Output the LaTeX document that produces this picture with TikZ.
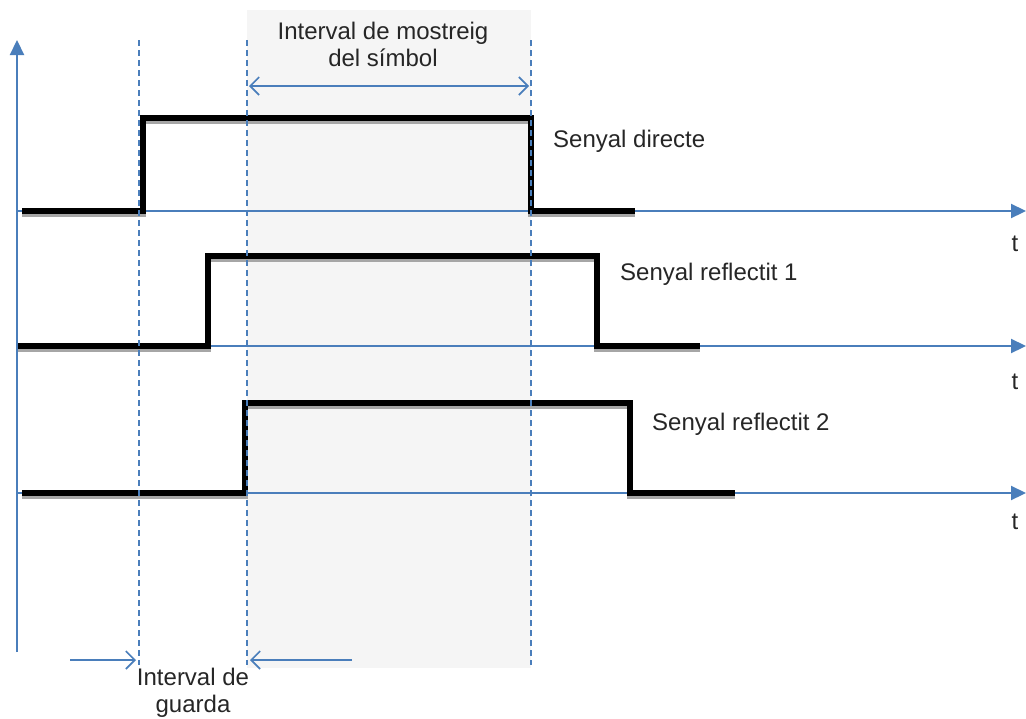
\documentclass[tikz,border=0pt]{standalone}
\usepackage{fontspec}
\setmainfont{Liberation Sans}
\usetikzlibrary{arrows.meta}
\definecolor{axblue}{HTML}{4A7EBB}
\definecolor{shadegray}{HTML}{F5F5F5}
\tikzset{barb/.tip={Straight Barb[length=9pt,width=18pt,line width=1.6pt]}}
\begin{document}
\begin{tikzpicture}[x=1pt,y=-1pt,
  axis/.style={draw=axblue,line width=2.2pt,-{Triangle[length=15pt,width=14pt]}},
  guide/.style={draw=axblue,line width=1.5pt,dash pattern=on 6pt off 4pt},
  sig/.style={draw=black,line width=5.5pt,line join=miter,line cap=butt},
  sigshadow/.style={draw=black!35,line width=5.5pt,line join=miter},
  span/.style={draw=axblue,line width=1.8pt},
  lbl/.style={font=\fontsize{24}{27}\selectfont,inner sep=0pt,text=black!85},
]
\useasboundingbox (0,0) rectangle (1026,718);
% shaded sampling interval
\fill[shadegray] (247,10) rectangle (531,668);
% axes
\coordinate (O) at (17,652);
\coordinate (Ytop) at (17,40);
\draw[axis] (O) -- (Ytop);
\foreach \y/\n in {211/1,346/2,493/3}{
  \coordinate (a\n) at (17,\y);
  \coordinate (b\n) at (1026,\y);
  \draw[axis] (a\n) -- (b\n);
}
\node[lbl,anchor=base] (t1) at (1015,251) {t};
\node[lbl,anchor=base] (t2) at (1015,389) {t};
\node[lbl,anchor=base] (t3) at (1015,529) {t};
% guide lines
\coordinate (g1t) at (139,40); \coordinate (g1b) at (139,665);
\coordinate (g2t) at (247,40); \coordinate (g2b) at (247,665);
\coordinate (g3t) at (531,40); \coordinate (g3b) at (531,665);
% signals (shadow then line)
\draw[sigshadow,yshift=-3pt] (22,211) -- (143,211) -- (143,118) -- (531,118) -- (531,211) -- (635,211);
\draw[sig] (22,211) -- (143,211) -- (143,118) -- (531,118) -- (531,211) -- (635,211);
\draw[sigshadow,yshift=-3pt] (18,346) -- (208,346) -- (208,256) -- (597,256) -- (597,346) -- (700,346);
\draw[sig] (18,346) -- (208,346) -- (208,256) -- (597,256) -- (597,346) -- (700,346);
\draw[sigshadow,yshift=-3pt] (22,493) -- (245,493) -- (245,403) -- (630,403) -- (630,493) -- (735,493);
\draw[sig] (22,493) -- (245,493) -- (245,403) -- (630,403) -- (630,493) -- (735,493);
\draw[guide] (g1t) -- (g1b);
\draw[guide] (g2t) -- (g2b);
\draw[guide] (g3t) -- (g3b);
% labels
\node[lbl,anchor=west] (s1) at (553,141) {Senyal directe};
\node[lbl,anchor=west] (s2) at (620,274) {Senyal reflectit 1};
\node[lbl,anchor=west] (s3) at (652,424) {Senyal reflectit 2};
% sampling interval
\coordinate (m1) at (249,86); \coordinate (m2) at (529,86);
\draw[span,barb-barb] (m1) -- (m2);
\node[lbl,align=center] (mt) at (383,44) {Interval de mostreig\\del símbol};
% guard interval
\coordinate (q1) at (70,660); \coordinate (q2) at (136,660);
\coordinate (q3) at (352,660); \coordinate (q4) at (250,660);
\draw[span,-barb] (q1) -- (q2);
\draw[span,-barb] (q3) -- (q4);
\node[lbl,align=center] (gt) at (193,693) {Interval de\\guarda};
\end{tikzpicture}
\end{document}
